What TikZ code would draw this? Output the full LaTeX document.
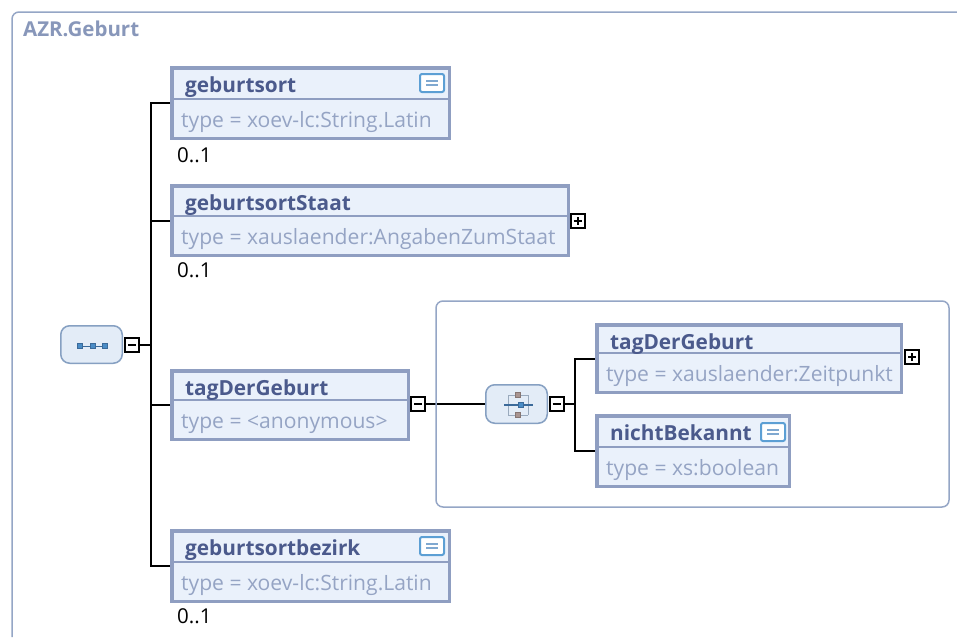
\documentclass[tikz,border=0pt]{standalone}
\usepackage{fontspec}
\setmainfont{Open Sans}
\usetikzlibrary{backgrounds}
\definecolor{boxborder}{HTML}{8F9EC1}
\definecolor{boxfill}{HTML}{EAF1FB}
\definecolor{namecol}{HTML}{4B5A8C}
\definecolor{typecol}{HTML}{95A4C4}
\definecolor{framecol}{HTML}{95A6C6}
\definecolor{headcol}{HTML}{8897BA}
\definecolor{grpfill}{HTML}{E3ECF7}
\definecolor{grpborder}{HTML}{86A0C2}
\definecolor{icoblue}{HTML}{4A8CC6}
\definecolor{icodark}{HTML}{3B6A9A}
\definecolor{icobrown}{HTML}{A89490}
\definecolor{icogray}{HTML}{9AAABD}
\definecolor{docblue}{HTML}{5C9FD4}
\definecolor{docline}{HTML}{7FA8D0}
\newcommand\elembox[8]{%
  \pgfmathsetmacro\ebw{#4-#2-3.5}%
  \pgfmathsetmacro\ebh{#5-#3-3.5}%
  \node[elem, minimum width=\ebw, minimum height=\ebh] (#1) at ({(#2+#4)/2},{(#3+#5)/2}) {};
  \draw[divline] ({#2+3.5},#6) -- ({#4-3.5},#6);
  \node[nametext] (#1-name) at ({#2+15},{#3+26}) {#7};
  \node[typetext] (#1-type) at ({#2+11},{#6+28}) {#8};
}
\newcommand\docicon[2]{%
  \draw[docbox] ({#1+1},{#2+1}) rectangle ({#1+25},{#2+19});
  \draw[doclines] ({#1+7},{#2+8}) -- ({#1+19},{#2+8});
  \draw[doclines] ({#1+7},{#2+12}) -- ({#1+19},{#2+12});
}
\begin{document}
\begin{tikzpicture}[x=1pt,y=-1pt,
  elem/.style={draw=boxborder, line width=3.5, fill=boxfill, inner sep=0, outer sep=0},
  divline/.style={draw=boxborder, line width=1.6},
  nametext/.style={anchor=base west, inner sep=0, text=namecol, font=\bfseries\fontsize{20.8}{24}\selectfont},
  typetext/.style={anchor=base west, inner sep=0, text=typecol, font=\fontsize{21.1}{25}\selectfont},
  cardtext/.style={anchor=base west, inner sep=0, text=black, font=\fontsize{20.5}{24}\selectfont},
  frame/.style={draw=framecol, line width=1.5, rounded corners=7},
  conn/.style={draw=black, line width=2},
  grp/.style={draw=grpborder, line width=1.5, fill=grpfill, rounded corners=9, inner sep=0, outer sep=0},
  pmbox/.style={draw=black, line width=2, fill=white, minimum size=14, inner sep=0, outer sep=0},
  minusbox/.style={pmbox, path picture={\draw[line width=2] ([xshift=-4]path picture bounding box.center) -- ([xshift=4]path picture bounding box.center);}},
  plusbox/.style={pmbox, path picture={\draw[line width=2] ([xshift=-4]path picture bounding box.center) -- ([xshift=4]path picture bounding box.center); \draw[line width=2] ([yshift=-4]path picture bounding box.center) -- ([yshift=4]path picture bounding box.center);}},
  docbox/.style={draw=docblue, line width=2, fill=white, rounded corners=2},
  doclines/.style={draw=docline, line width=1.5},
  sq/.style={draw=icodark, line width=0.6, fill=icoblue, minimum size=5, inner sep=0, outer sep=0},
  sqb/.style={draw=icobrown!80!black, line width=0.6, fill=icobrown, minimum size=5, inner sep=0, outer sep=0},
]
\useasboundingbox (0,0) rectangle (957,637);

% outer frame and title
\draw[frame] (12,637) -- (12,12) -- (957,12);
\node[anchor=base west, inner sep=0, text=headcol, font=\bfseries\fontsize{20.5}{24}\selectfont] (head) at (23,36) {AZR.Geburt};

% inner choice frame
\draw[frame] (436,301) rectangle (949,507);

% sequence compositor
\node[grp, minimum width=61.5, minimum height=37.5] (seq) at (91.5,344.5) {};
\draw[icodark, line width=1] (80,346) -- (105,346);
\node[sq] (seqa) at (80,346) {};
\node[sq] (seqb) at (92.5,346) {};
\node[sq] (seqc) at (105,346) {};
\node[minusbox] (seqm) at (132,345) {};
\coordinate (j1) at (151,345);

% elements of the sequence
\elembox{geburtsort}{170}{66}{451}{140}{99}{geburtsort}{type = xoev-lc:String.Latin}
\docicon{419}{73}
\node[cardtext] (c1) at (177,162) {0..1};

\elembox{staat}{170}{184}{570}{257}{216}{geburtsortStaat}{type = xauslaender:AngabenZumStaat}
\node[plusbox] (staatp) at (577.5,220.5) {};
\node[cardtext] (c2) at (177,277) {0..1};

\elembox{tag}{170}{369}{410}{441}{400}{tagDerGeburt}{type = <anonymous>}
\node[minusbox] (tagm) at (418,404) {};

\elembox{bezirk}{170}{529}{451}{603}{562}{geburtsortbezirk}{type = xoev-lc:String.Latin}
\docicon{419}{536}
\node[cardtext] (c3) at (177,623) {0..1};

% choice compositor
\node[grp, minimum width=61.5, minimum height=38.5] (choice) at (516.5,404) {};
\draw[icogray, line width=1] (508,395) -- (508,415);
\draw[icogray, line width=1] (528,395) -- (528,415);
\draw[icogray, line width=1] (508,395) -- (528,395);
\draw[icogray, line width=1] (508,415) -- (528,415);
\draw[icodark, line width=1.2] (504,405) -- (533,405);
\node[sqb] (cha) at (518,395) {};
\node[sqb] (chb) at (518,415) {};
\node[sq] (chc) at (521,405) {};
\node[minusbox] (choicem) at (556.5,404) {};
\coordinate (j2) at (575,404);

\elembox{tagb}{595}{323}{903}{394}{353}{tagDerGeburt}{type = xauslaender:Zeitpunkt}
\node[plusbox] (tagbp) at (912,357) {};
\elembox{nicht}{595}{414}{791}{488}{447}{nichtBekannt}{type = xs:boolean}
\docicon{760}{422}

% connectors
\begin{scope}[on background layer]
  \fill[white] (0,0) rectangle (957,637);
  \draw[conn] (seqm.east) -- (j1);
  \draw[conn] (j1) |- (geburtsort.west);
  \draw[conn] (j1) |- (staat.west);
  \draw[conn] (j1) |- (tag.west);
  \draw[conn] (j1) |- (bezirk.west);
  \draw[conn] (tagm.east) -- (choice.west);
  \draw[conn] (choicem.east) -- (j2);
  \draw[conn] (j2) |- (tagb.west);
  \draw[conn] (j2) |- (nicht.west);
\end{scope}
\end{tikzpicture}
\end{document}
